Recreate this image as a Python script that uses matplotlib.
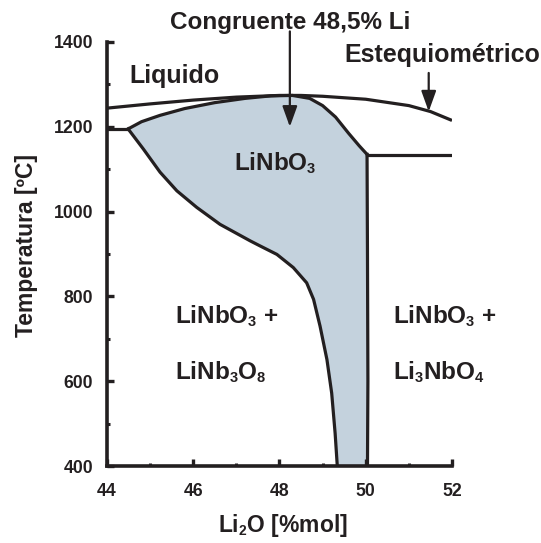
import matplotlib
matplotlib.use("Agg")
import matplotlib.pyplot as plt
from matplotlib import font_manager as fm
from matplotlib.ticker import MultipleLocator
try:
    import matplotlib._mathtext as _mt
    _mt.SHRINK_FACTOR = 0.6
except Exception:
    pass

# ---------------- data ----------------
# Liquidus (upper) curve
liq_x = [44.0, 45.0, 46.0, 47.0, 48.0, 48.5, 49.0, 50.0, 51.0, 51.5, 52.0]
liq_T = [1244, 1254, 1263, 1270, 1274, 1274, 1272, 1265, 1250, 1236, 1215]

# LiNbO3 solid-solution region: upper boundary (left -> right)
sol_top_x = [44.49, 44.8, 45.23, 45.8, 46.5, 47.2, 47.8, 48.3, 48.7, 49.0, 49.3, 49.6, 49.85, 50.03]
sol_top_T = [1195, 1212, 1227, 1243, 1257, 1267, 1273, 1274, 1267, 1250, 1223, 1185, 1155, 1135]
# right boundary (top -> bottom)
sol_right_x = [50.03, 50.04, 50.05, 50.04]
sol_right_T = [1135, 900, 600, 400]
# left boundary (bottom -> top)
sol_left_x = [49.34, 49.29, 49.21, 49.1, 48.94, 48.79, 48.63, 48.32, 47.94, 47.55, 47.32,
              46.62, 46.08, 45.62, 45.23, 44.84, 44.49]
sol_left_T = [400, 477, 572, 651, 730, 793, 832, 868, 899, 919, 931,
              970, 1010, 1049, 1093, 1148, 1195]

# eutectic / peritectic horizontals
left_h_x = [44.0, 44.49]
left_h_T = [1195, 1195]
right_h_x = [50.03, 52.0]
right_h_T = [1133, 1133]

# annotation arrows (x, T_start, T_tip)
congruent_arrow = (48.24, 1425, 1200)
stoich_arrow = (51.46, 1327, 1236)

xticks_major = [44, 46, 48, 50, 52]
yticks_major = [400, 600, 800, 1000, 1200, 1400]

# ---------------- fonts ----------------
avail = {f.name for f in fm.fontManager.ttflist}
if "Liberation Sans Narrow" in avail:
    FONT = "Liberation Sans Narrow"
else:
    FONT = "Liberation Sans"
plt.rcParams["font.family"] = [FONT, "DejaVu Sans"]
plt.rcParams["font.weight"] = "bold"
plt.rcParams["mathtext.fontset"] = "custom"
plt.rcParams["mathtext.rm"] = FONT + ":bold"
plt.rcParams["mathtext.it"] = FONT + ":bold"
plt.rcParams["mathtext.bf"] = FONT + ":bold"

INK = "#231f20"
FILL = "#c4d2dd"

fig = plt.figure(figsize=(5.41, 5.43), dpi=100)
ax = fig.add_axes([107 / 541, 1 - 466 / 543, (452 - 107) / 541, (466 - 42) / 543])
ax.set_xlim(44, 52)
ax.set_ylim(400, 1400)

# fill region
poly_x = sol_top_x + sol_right_x[1:] + sol_left_x
poly_T = sol_top_T + sol_right_T[1:] + sol_left_T
ax.fill(poly_x, poly_T, color=FILL, lw=0, zorder=1)

lw = 2.3
ax.plot(liq_x, liq_T, color=INK, lw=lw, zorder=3, solid_capstyle="butt")
ax.plot(sol_top_x, sol_top_T, color=INK, lw=lw, zorder=3, solid_joinstyle="round")
ax.plot(sol_right_x, sol_right_T, color=INK, lw=lw, zorder=3)
ax.plot(sol_left_x, sol_left_T, color=INK, lw=lw, zorder=3, solid_joinstyle="round")
ax.plot(left_h_x, left_h_T, color=INK, lw=lw, zorder=3)
ax.plot(right_h_x, right_h_T, color=INK, lw=lw, zorder=3)

for (x, t0, t1) in [congruent_arrow, stoich_arrow]:
    ax.annotate("", xy=(x, t1), xytext=(x, t0), annotation_clip=False,
                arrowprops=dict(arrowstyle="-|>,head_length=1.25,head_width=0.45",
                                color=INK, lw=1.6, shrinkA=0, shrinkB=0), zorder=4)

# spines and ticks
for s in ["top", "right"]:
    ax.spines[s].set_visible(False)
for s in ["left", "bottom"]:
    ax.spines[s].set_linewidth(2.6)
    ax.spines[s].set_color(INK)
ax.set_xticks(xticks_major)
ax.set_yticks(yticks_major)
ax.xaxis.set_minor_locator(MultipleLocator(1))
ax.yaxis.set_minor_locator(MultipleLocator(100))
ax.tick_params(which="major", direction="in", length=5, width=2.4, color=INK,
               labelsize=12.7, labelcolor=INK)
ax.tick_params(which="minor", direction="in", length=2.5, width=2.2, color=INK)
ax.tick_params(axis="x", which="major", pad=12)
ax.tick_params(axis="y", which="major", pad=10)
for lab in ax.get_xticklabels() + ax.get_yticklabels():
    lab.set_fontweight("bold")

# texts
fs_lab = 17.5
ax.text(45.56, 1303, "Liquido", fontsize=18, ha="center", va="baseline", color=INK)
ax.text(47.9, 1097, r"LiNbO$_3$", fontsize=fs_lab, ha="center", va="baseline", color=INK)
ax.text(45.58, 738, r"LiNbO$_3$ +", fontsize=fs_lab, ha="left", va="baseline", color=INK)
ax.text(45.58, 605, r"LiNb$_3$O$_8$", fontsize=fs_lab, ha="left", va="baseline", color=INK)
ax.text(50.64, 738, r"LiNbO$_3$ +", fontsize=fs_lab, ha="left", va="baseline", color=INK)
ax.text(50.64, 605, r"Li$_3$NbO$_4$", fontsize=fs_lab, ha="left", va="baseline", color=INK)
ax.text(48.24, 1430, "Congruente 48,5% Li", fontsize=17.5, ha="center", va="baseline",
        color=INK, clip_on=False)
ax.text(51.77, 1354, "Estequiométrico", fontsize=18, ha="center", va="baseline",
        color=INK, clip_on=False)

fig.text(282.8 / 541, 1 - 532.3 / 543, r"Li$_2$O [%mol]", fontsize=16.5, ha="center",
         va="baseline", color=INK)
fig.text(26.7 / 541, 1 - 245.7 / 543, "Temperatura [ºC]", fontsize=16.5, rotation=90,
         ha="center", va="center", color=INK)

fig.savefig("out.png", dpi=100)
